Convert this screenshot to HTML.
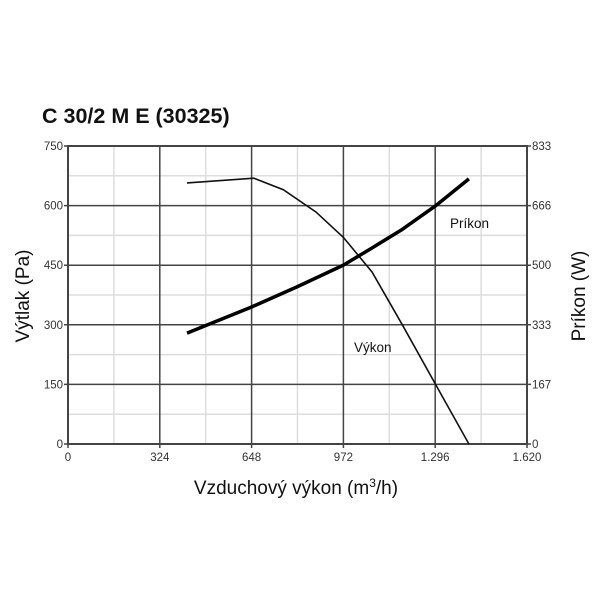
<!DOCTYPE html>
<html><head><meta charset="utf-8"><style>
body{margin:0;background:#fff;width:600px;height:600px;overflow:hidden}
text{font-family:"Liberation Sans",sans-serif}
</style></head><body>
<svg id="c" width="600" height="600">
<text x="42" y="123" font-size="21.5" font-weight="bold" fill="#111">C 30/2 M E (30325)</text>
<g id="grid"></g><g id="ax"></g><g id="series"></g>
<text x="296" y="494" font-size="19" text-anchor="middle" fill="#111">Vzduchový výkon (m<tspan dy="-7" font-size="12">3</tspan><tspan dy="7">/h)</tspan></text>
<text transform="translate(29,296) rotate(-90)" font-size="19" text-anchor="middle" fill="#111">Výtlak (Pa)</text>
<text transform="translate(585,296) rotate(-90)" font-size="19" text-anchor="middle" fill="#111">Príkon (W)</text>
<text x="450" y="228" font-size="13.5" fill="#111">Príkon</text>
<text x="354" y="352" font-size="13.5" fill="#111">Výkon</text>
</svg>
<script>
const xTicks=[0,324,648,972,1296,1620];
const xTickLabels=["0","324","648","972","1.296","1.620"];
const yTicks=[0,150,300,450,600,750];
const yRightTickLabels=["0","167","333","500","666","833"];
const vykonX=[420,656,760,875,972,1073,1180,1295,1415];
const vykonY=[657,669,640,584,520,433,300,153,0];
const prikonX=[420,648,810,972,1073,1180,1296,1415];
const prikonW=[310,383,440,500,548,600,665,741];
const L=68,R=527,T=146,B=444;
const sx=v=>L+v/1620*(R-L), sy=v=>B-v/750*(B-T), sw=v=>B-v/833*(B-T);
const NS="http://www.w3.org/2000/svg";
function mk(p,tag,a){const e=document.createElementNS(NS,tag);for(const k in a)e.setAttribute(k,a[k]);p.appendChild(e);return e;}
const g=document.getElementById('grid'),ax=document.getElementById('ax'),s=document.getElementById('series');
for(let i=0;i<xTicks.length-1;i++){const v=(xTicks[i]+xTicks[i+1])/2;
 const l=mk(g,'line',{x1:sx(v),x2:sx(v),y1:T,y2:B,stroke:'#ddd','stroke-width':1.5});
 }
for(let i=0;i<yTicks.length-1;i++){const v=(yTicks[i]+yTicks[i+1])/2;
 const l=mk(g,'line',{x1:L,x2:R,y1:sy(v),y2:sy(v),stroke:'#ddd','stroke-width':1.5});
 }
xTicks.forEach((v,i)=>{
 const l=mk(g,'line',{x1:sx(v),x2:sx(v),y1:T,y2:B+4,stroke:'#444','stroke-width':1.5});
 
 const t=mk(ax,'text',{x:sx(v),y:B+17,'font-size':11.5,'text-anchor':'middle',fill:'#333'});t.textContent=xTickLabels[i];
 });
yTicks.forEach((v,i)=>{
 const l=mk(g,'line',{x1:L-4,x2:R+4,y1:sy(v),y2:sy(v),stroke:'#444','stroke-width':1.5});
 
 const t=mk(ax,'text',{x:L-5,y:sy(v)+4,'font-size':11.5,'text-anchor':'end',fill:'#333'});t.textContent=String(v);
 
 const t2=mk(ax,'text',{x:R+5,y:sy(v)+4,'font-size':11.5,'text-anchor':'start',fill:'#333'});t2.textContent=yRightTickLabels[i];
 });
const fr=mk(ax,'rect',{x:L,y:T,width:R-L,height:B-T,fill:'none',stroke:'#444','stroke-width':2});

const p1=mk(s,'polyline',{points:vykonX.map((x,i)=>sx(x)+','+sy(vykonY[i])).join(' '),fill:'none',stroke:'#111','stroke-width':1.6});

const p2=mk(s,'polyline',{points:prikonX.map((x,i)=>sx(x)+','+sw(prikonW[i])).join(' '),fill:'none',stroke:'#000','stroke-width':3.5,'stroke-linejoin':'round'});

</script>
</body></html>
